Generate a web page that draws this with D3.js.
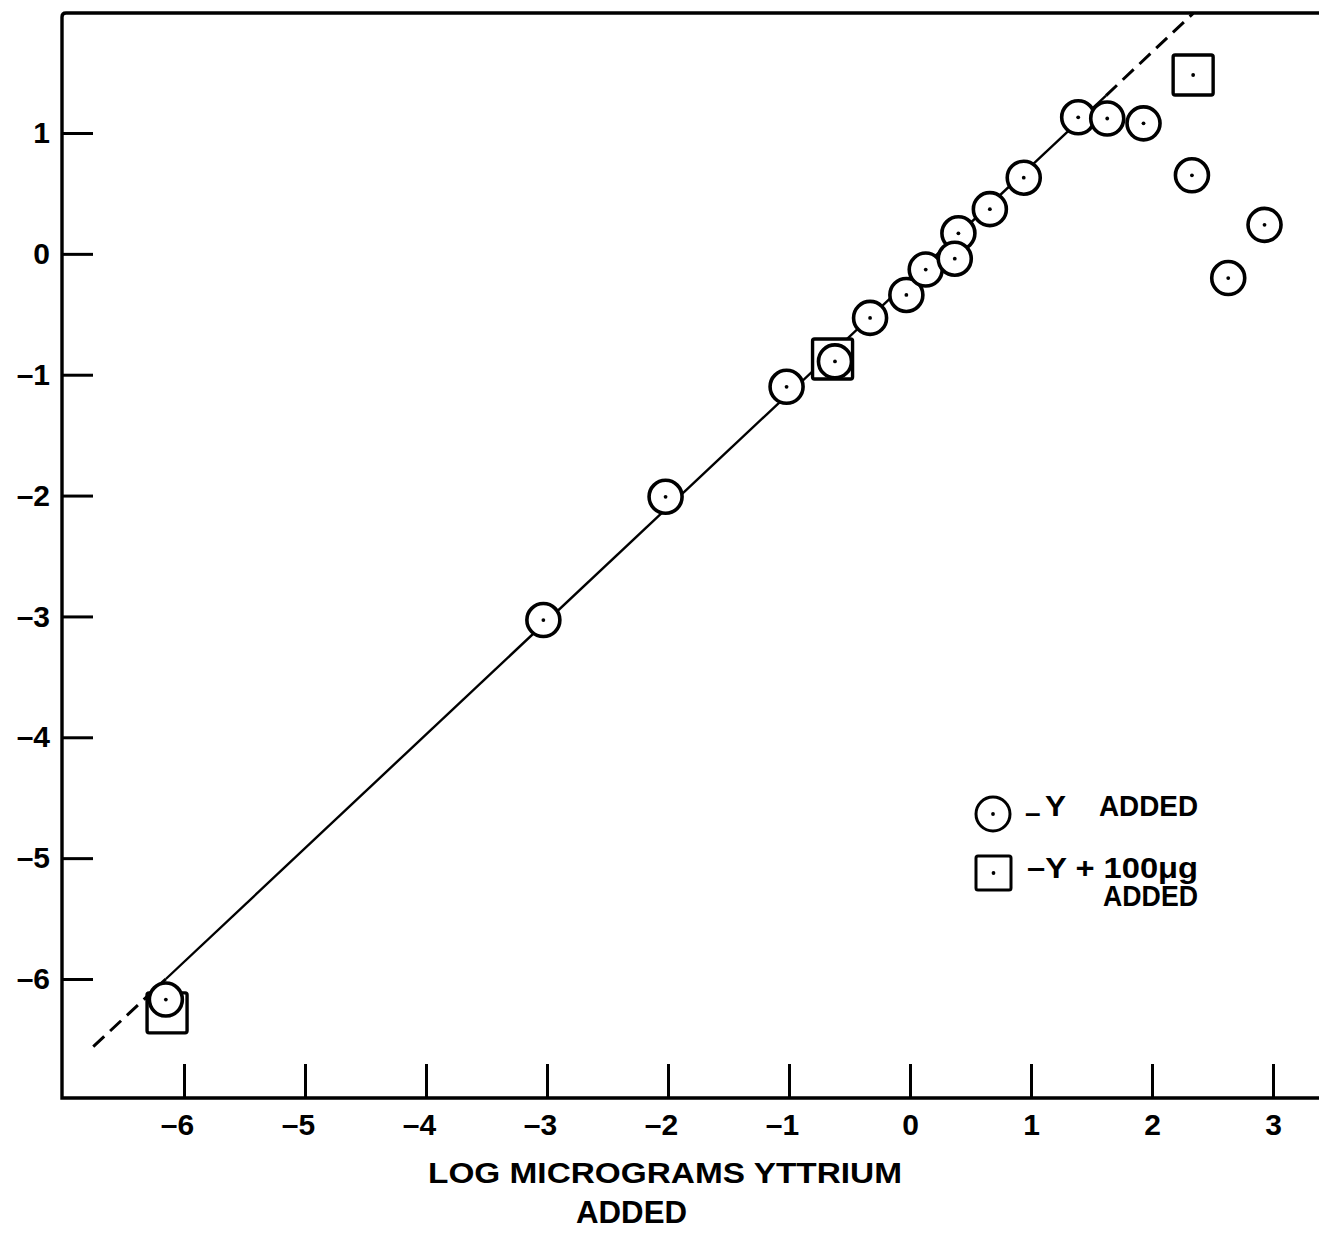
<!DOCTYPE html>
<html>
<head>
<meta charset="utf-8">
<script src="https://cdn.jsdelivr.net/npm/d3@7/dist/d3.min.js"></script>
<style>
  html, body { margin: 0; padding: 0; background: #fff; }
  svg { display: block; }
  text { font-family: "Liberation Sans", Arial, sans-serif; font-weight: bold; fill: #000; }
</style>
</head>
<body>
<svg id="chart" width="1320" height="1237"></svg>
<script>
// ---- data ----
const xTicks = [-6, -5, -4, -3, -2, -1, 0, 1, 2, 3];
const yTicks = [1, 0, -1, -2, -3, -4, -5, -6];

// "Y added" points (circles), drawn in this order
const circleX = [-6.15, -3.03, -2.02, -1.02, -0.62, -0.33, -0.03, 0.13, 0.40, 0.37, 0.66, 0.94, 1.39, 1.63, 1.93, 2.33, 2.93, 2.63];
const circleY = [-6.17, -3.03, -2.01, -1.10, -0.89, -0.53, -0.34, -0.13, 0.17, -0.04, 0.37, 0.63, 1.13, 1.12, 1.08, 0.65, 0.24, -0.20];

// "Y + 100 µg added" points (squares)
const squareX = [-6.14, -0.64, 2.34];
const squareY = [-6.28, -0.87, 1.48];

// fitted line: solid part and dashed extrapolations
const fitSolidX = [-6.15, 1.62];
const fitSolidY = [-6.00, 1.31];
const fitDashLowX = [-6.75, -6.15];
const fitDashLowY = [-6.56, -6.00];
const fitDashHighX = [1.62, 2.34];
const fitDashHighY = [1.31, 1.99];

const xLabelLines = ["LOG MICROGRAMS YTTRIUM", "ADDED"];
const legendLabels = ["Y", "ADDED", "\u2013Y + 100\u03bcg", "ADDED"];

// ---- layout ----
const svg = d3.select("#chart");
const frameLeft = 62, frameTop = 13, frameBottom = 1098, frameRight = 1319;
const x = d3.scaleLinear().domain([-6, 3]).range([184, 1273]);
const y = d3.scaleLinear().domain([1, -6]).range([133, 979]);

// fitted lines (under the markers)
const line = d3.line().x(d => x(d[0])).y(d => y(d[1]));
svg.append("path").datum(d3.zip(fitSolidX, fitSolidY))
  .attr("d", line).attr("fill", "none").attr("stroke", "#000").attr("stroke-width", 2.4);
[[fitDashLowX, fitDashLowY], [fitDashHighX, fitDashHighY]].forEach(([xs, ys]) => {
  svg.append("path").datum(d3.zip(xs, ys))
    .attr("d", line).attr("fill", "none").attr("stroke", "#000")
    .attr("stroke-width", 3).attr("stroke-dasharray", "15,8");
});

// axes
const fontSize = 30;
const gx = svg.append("g").attr("transform", `translate(0,${frameBottom})`)
  .call(d3.axisBottom(x).tickValues(xTicks).tickSizeInner(-34).tickSizeOuter(0).tickPadding(16)
    .tickFormat(d => d < 0 ? "\u2013" + Math.abs(d) : String(d)));
gx.select(".domain").remove();
gx.selectAll(".tick line").attr("stroke", "#000").attr("stroke-width", 3);
gx.selectAll(".tick text").attr("font-size", fontSize).attr("font-family", null)
  .attr("dx", d => d < 0 ? -7 : 0);

const gy = svg.append("g").attr("transform", `translate(${frameLeft},0)`)
  .call(d3.axisLeft(y).tickValues(yTicks).tickSizeInner(-31).tickSizeOuter(0).tickPadding(12)
    .tickFormat(d => d < 0 ? "\u2013" + Math.abs(d) : String(d)));
gy.select(".domain").remove();
gy.selectAll(".tick line").attr("stroke", "#000").attr("stroke-width", 3);
gy.selectAll(".tick text").attr("font-size", fontSize).attr("font-family", null);

// frame
svg.append("path")
  .attr("d", `M${frameRight},${frameTop} L${frameLeft + 4},${frameTop} Q${frameLeft},${frameTop} ${frameLeft},${frameTop + 4} L${frameLeft},${frameBottom} L${frameRight},${frameBottom}`)
  .attr("fill", "none").attr("stroke", "#000").attr("stroke-width", 3.4);

// markers
const sq = 40, r = 16.5;
const squares = svg.append("g");
d3.zip(squareX, squareY).forEach(([a, b]) => {
  squares.append("rect").attr("x", x(a) - sq / 2).attr("y", y(b) - sq / 2)
    .attr("width", sq).attr("height", sq).attr("rx", 2)
    .attr("fill", "#fff").attr("stroke", "#000").attr("stroke-width", 3.4);
  squares.append("circle").attr("cx", x(a)).attr("cy", y(b)).attr("r", 1.9).attr("fill", "#000");
});
const circles = svg.append("g");
d3.zip(circleX, circleY).forEach(([a, b]) => {
  circles.append("circle").attr("cx", x(a)).attr("cy", y(b)).attr("r", r)
    .attr("fill", "#fff").attr("stroke", "#000").attr("stroke-width", 3.6);
  circles.append("circle").attr("cx", x(a)).attr("cy", y(b)).attr("r", 1.9).attr("fill", "#000");
});

// x axis title
svg.append("text").attr("x", 428).attr("y", 1183).attr("font-size", 29)
  .attr("textLength", 474).attr("lengthAdjust", "spacingAndGlyphs").text(xLabelLines[0]);
svg.append("text").attr("x", 576).attr("y", 1223).attr("font-size", 32)
  .attr("textLength", 111).attr("lengthAdjust", "spacingAndGlyphs").text(xLabelLines[1]);

// legend
const lg = svg.append("g");
lg.append("circle").attr("cx", 993).attr("cy", 814).attr("r", 17)
  .attr("fill", "#fff").attr("stroke", "#000").attr("stroke-width", 3);
lg.append("circle").attr("cx", 993).attr("cy", 814).attr("r", 1.9).attr("fill", "#000");
lg.append("text").attr("x", 1025).attr("y", 822).attr("font-size", 28).text("\u2013");
lg.append("text").attr("x", 1045).attr("y", 816).attr("font-size", 29)
  .attr("textLength", 21).attr("lengthAdjust", "spacingAndGlyphs").text(legendLabels[0]);
lg.append("text").attr("x", 1099).attr("y", 816).attr("font-size", 29)
  .attr("textLength", 99).attr("lengthAdjust", "spacingAndGlyphs").text(legendLabels[1]);

lg.append("rect").attr("x", 976).attr("y", 856).attr("width", 35).attr("height", 34).attr("rx", 2)
  .attr("fill", "#fff").attr("stroke", "#000").attr("stroke-width", 3);
lg.append("circle").attr("cx", 993.5).attr("cy", 873).attr("r", 1.9).attr("fill", "#000");
lg.append("text").attr("x", 1027).attr("y", 878).attr("font-size", 29)
  .attr("textLength", 171).attr("lengthAdjust", "spacingAndGlyphs").text(legendLabels[2]);
lg.append("text").attr("x", 1103).attr("y", 906).attr("font-size", 29)
  .attr("textLength", 95).attr("lengthAdjust", "spacingAndGlyphs").text(legendLabels[3]);
</script>
</body>
</html>
